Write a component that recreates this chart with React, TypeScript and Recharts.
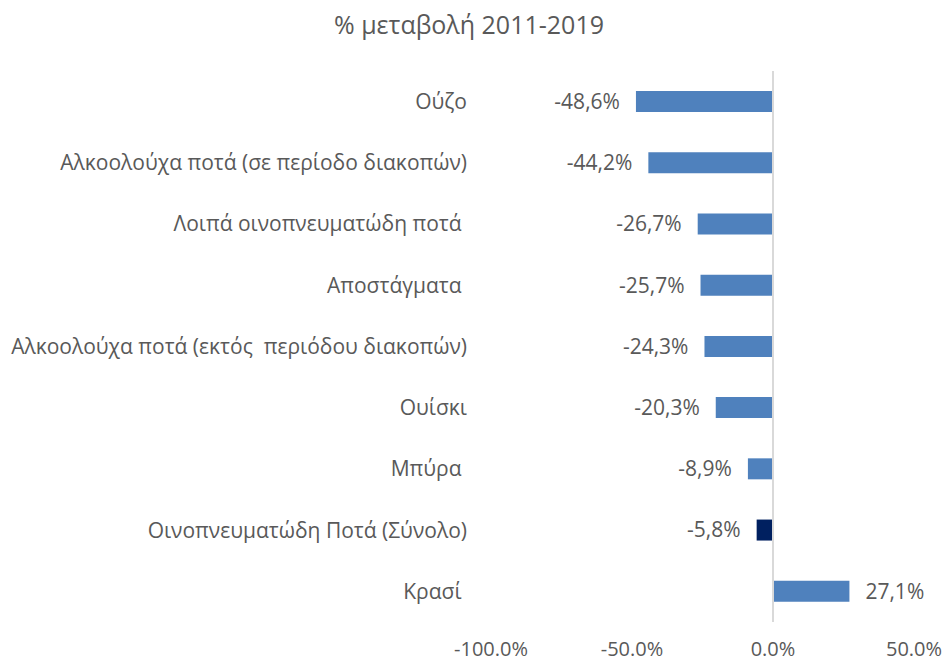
import { BarChart, Bar, XAxis, YAxis, Cell, LabelList, ReferenceLine } from "recharts";

const categories = [
  "Ούζο",
  "Αλκοολούχα ποτά (σε περίοδο διακοπών)",
  "Λοιπά οινοπνευματώδη ποτά ",
  "Αποστάγματα ",
  "Αλκοολούχα ποτά (εκτός  περιόδου διακοπών)",
  "Ουίσκι",
  "Μπύρα ",
  "Οινοπνευματώδη Ποτά (Σύνολο)",
  "Κρασί ",
];

const changes = [-48.6, -44.2, -26.7, -25.7, -24.3, -20.3, -8.9, -5.8, 27.1];

const xTicks = [-100, -50, 0, 50];

const TOTAL_LABEL = "Οινοπνευματώδη Ποτά (Σύνολο)";
const BAR_COLOR = "#4F81BD";
const TOTAL_COLOR = "#002060";
const TEXT_COLOR = "#595959";
const FONT = "'Open Sans', sans-serif";

const data = categories.map((name, i) => ({ name, value: changes[i] }));

function CategoryTick(props: any) {
  const { x, y, payload } = props;
  return (
    <text
      x={x}
      y={y}
      dy="0.35em"
      textAnchor="end"
      fill={TEXT_COLOR}
      fontSize={21}
      fontFamily={FONT}
      style={{ whiteSpace: "pre" }}
    >
      {payload.value}
    </text>
  );
}

function ValueLabel(props: any) {
  const { x, y, width, height, value } = props;
  const left = Math.min(x, x + width);
  const right = Math.max(x, x + width);
  const neg = value < 0;
  return (
    <text
      x={neg ? left - 16 : right + 16}
      y={y + height / 2}
      dy="0.35em"
      textAnchor={neg ? "end" : "start"}
      fill={TEXT_COLOR}
      fontSize={21}
      fontFamily={FONT}
    >
      {value.toFixed(1).replace(".", ",") + "%"}
    </text>
  );
}

export default function App() {
  return (
    <div
      style={{
        position: "absolute",
        left: 0,
        top: 0,
        width: 947,
        height: 661,
        background: "#fff",
        fontFamily: FONT,
      }}
    >
      <div
        style={{
          position: "absolute",
          top: 7,
          left: 0,
          width: 938,
          textAlign: "center",
          fontSize: 25,
          color: TEXT_COLOR,
        }}
      >
        % μεταβολή 2011-2019
      </div>
      <BarChart
        width={947}
        height={661}
        data={data}
        layout="vertical"
        margin={{ top: 71, right: 33, bottom: 0, left: 0 }}
      >
        <XAxis
          type="number"
          domain={[-100, 50]}
          ticks={xTicks}
          tickFormatter={(v: number) => v.toFixed(1) + "%"}
          axisLine={false}
          tickLine={false}
          tickSize={0}
          tickMargin={20}
          height={39}
          tick={{ fill: TEXT_COLOR, fontSize: 20, fontFamily: FONT }}
        />
        <YAxis
          type="category"
          dataKey="name"
          width={491}
          axisLine={false}
          tickLine={false}
          tickSize={0}
          tickMargin={24}
          interval={0}
          tick={<CategoryTick />}
        />
        <ReferenceLine x={0} stroke="#D9D9D9" strokeWidth={2} />
        <Bar dataKey="value" barSize={21} isAnimationActive={false}>
          {data.map((d) => (
            <Cell key={d.name} fill={d.name === TOTAL_LABEL ? TOTAL_COLOR : BAR_COLOR} />
          ))}
          <LabelList dataKey="value" content={<ValueLabel />} />
        </Bar>
      </BarChart>
    </div>
  );
}
